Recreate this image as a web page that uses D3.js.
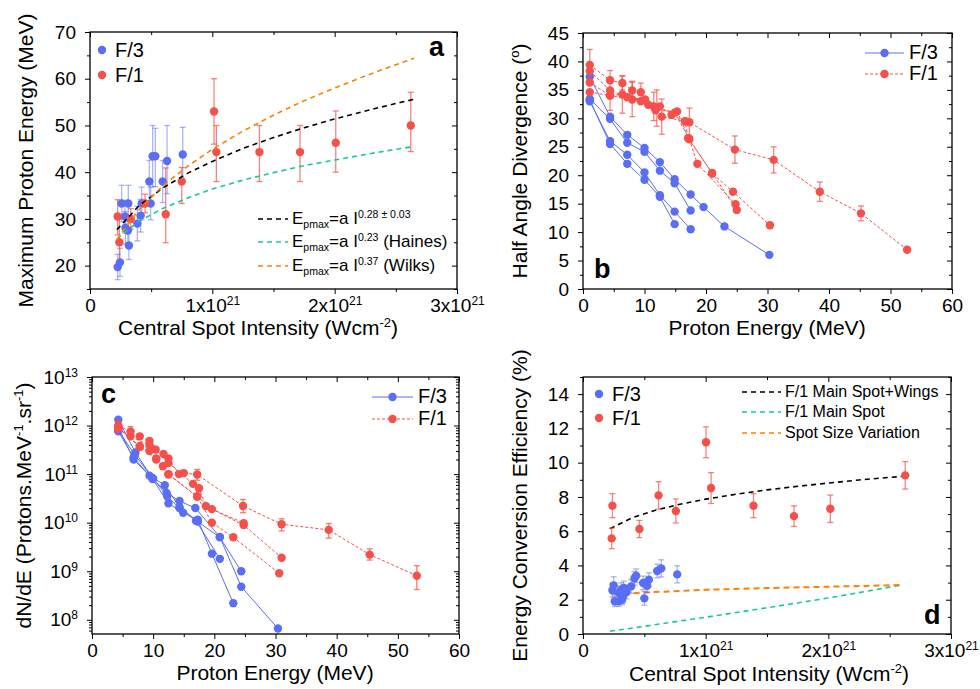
<!DOCTYPE html>
<html>
<head>
<meta charset="utf-8">
<title>Proton beam vs laser focus</title>
<style>
  body { margin: 0; background: #fff; }
  text { font-family: "Liberation Sans", Arial, sans-serif; }
</style>
</head>
<body>
<script src="https://cdn.jsdelivr.net/npm/d3@7/dist/d3.min.js"></script>
<script>

// ---------- panel a : max proton energy vs central spot intensity (x in 1e21 W/cm2)
// [intensity, energy, err-, err+]
var aF3 = [
  [0.226, 19.7, 2.7, 2.7], [0.245, 20.7, 3.0, 3.0], [0.259, 33.3, 3.9, 3.9], [0.286, 30.5, 3.5, 3.5],
  [0.29, 28.1, 3.5, 3.5], [0.313, 33.3, 3.9, 3.9], [0.31, 27.5, 3.0, 3.0], [0.318, 24.3, 3.0, 3.0],
  [0.387, 29.0, 3.7, 3.7], [0.414, 30.7, 3.5, 3.5], [0.422, 33.3, 3.5, 3.5], [0.485, 38.0, 4.5, 4.5],
  [0.496, 33.3, 3.5, 3.5], [0.512, 43.4, 6.5, 6.6], [0.534, 43.4, 6.5, 6.0], [0.594, 38.0, 4.5, 4.5],
  [0.63, 42.4, 7.0, 7.6], [0.758, 43.8, 5.8, 5.8]
];
var aF1 = [
  [0.226, 30.5, 3.9, 3.6], [0.24, 25.0, 5.0, 5.0], [0.333, 30.0, 2.2, 2.2], [0.45, 33.3, 2.0, 2.0],
  [0.619, 31.0, 6.1, 9.9], [0.75, 38.0, 4.7, 3.0], [1.014, 53.0, 7.0, 7.0], [1.033, 44.3, 6.3, 5.7],
  [1.385, 44.3, 6.3, 5.7], [1.717, 44.3, 6.3, 5.7], [2.009, 46.3, 6.3, 6.8], [2.622, 50.0, 5.6, 7.1]
];
var aFitI      = [0.22, 0.4, 0.6, 0.8, 1.0, 1.25, 1.5, 1.75, 2.0, 2.25, 2.5, 2.65];
var aFitBlack  = [27.7, 32.8, 36.7, 39.8, 42.3, 45.1, 47.4, 49.5, 51.4, 53.1, 54.7, 55.6];
var aFitHaines = [25.7, 29.5, 32.3, 34.5, 36.4, 38.3, 39.9, 41.4, 42.6, 43.8, 44.9, 45.5];
var aFitWilks  = [25.6, 32.0, 37.2, 41.3, 44.9, 48.8, 52.2, 55.3, 58.0, 60.6, 63.0, 64.4];

// ---------- panel b : half angle divergence vs proton energy, one list per shot
// [energy, angle, err]
var bF3 = [
  [[1.1, 37.3, 0], [4.4, 30.3, 0], [7.2, 27.1, 0], [10.0, 24.8, 0], [12.5, 22.3, 0], [14.9, 19.3, 0],
   [17.5, 16.6, 0], [19.6, 14.4, 0], [23.0, 11.0, 0], [30.3, 6.0, 0]],
  [[1.1, 33.4, 0], [4.4, 29.9, 0], [7.2, 25.7, 0], [10.0, 24.1, 0], [12.5, 20.8, 0], [14.9, 18.6, 0], [17.5, 13.8, 0]],
  [[1.1, 33.0, 0], [4.4, 26.0, 0], [7.2, 23.6, 0], [10.0, 20.5, 0], [12.5, 16.5, 0], [14.9, 13.6, 0], [17.5, 10.5, 0]],
  [[1.1, 33.2, 0], [4.4, 25.5, 0], [7.2, 22.0, 0], [10.0, 19.2, 0], [12.5, 16.2, 0], [14.9, 11.4, 0]]
];
var bF1 = [
  [[1.1, 39.4, 2.7], [4.4, 36.7, 0], [6.4, 36.2, 1.2], [8.0, 34.9, 1.6], [9.4, 34.6, 1.6], [11.5, 32.1, 2.5],
   [12.5, 32.1, 0], [14.4, 30.6, 0], [16.6, 29.5, 0], [17.3, 29.3, 2.5], [24.7, 24.5, 2.4], [31.0, 22.7, 2.3],
   [38.5, 17.1, 1.7], [45.2, 13.3, 1.3], [52.7, 6.9, 0.4]],
  [[1.1, 38.3, 0], [4.4, 34.9, 3.5], [7.2, 33.7, 0], [10.1, 33.3, 0], [12.0, 31.8, 3.2], [14.9, 31.0, 0],
   [17.2, 26.5, 0], [21.0, 20.3, 0], [24.4, 17.1, 0], [30.4, 11.2, 0]],
  [[1.1, 36.3, 0], [4.4, 34.0, 0], [6.4, 34.2, 3.3], [9.4, 33.0, 0], [11.8, 31.4, 0], [15.3, 31.2, 0],
   [17.3, 26.3, 0], [18.6, 22.0, 0], [24.8, 14.9, 0]],
  [[1.1, 34.6, 0], [4.4, 34.0, 0], [8.0, 33.3, 3.0], [10.6, 32.4, 0], [12.8, 30.3, 3.1], [16.6, 29.5, 0],
   [17.1, 26.5, 0], [21.0, 20.4, 0], [25.0, 13.9, 0]]
];

// ---------- panel c : spectra, [energy, dN/dE, low, high]
var cF3 = [
  [[4.3, 1.32e12], [7.1, 2.8e11], [9.9, 8.3e10], [12.2, 4.1e10], [14.3, 2.8e10], [16.9, 2.0e10],
   [20.9, 5.1e9], [24.4, 4.8e8], [30.4, 6.6e7]],
  [[4.3, 9.3e11], [6.8, 2.0e11], [9.4, 9.3e10], [11.9, 5.9e10], [14.3, 2.1e10], [17.3, 1.05e10],
   [20.9, 5.0e9], [24.4, 1.0e9]],
  [[4.3, 7.6e11], [6.8, 2.2e11], [9.9, 7.9e10], [12.5, 2.5e10], [14.9, 1.6e10], [17.3, 1.15e10],
   [19.6, 2.3e9], [23.1, 2.2e8]],
  [[4.3, 8.0e11], [7.0, 2.5e11], [10.0, 8.0e10], [12.3, 3.5e10], [14.3, 2.0e10], [17.0, 1.1e10], [20.9, 1.8e9]]
];
var cF1 = [
  [[4.3, 1.0e12, 8.0e11, 1.25e12], [6.3, 7.6e11, 6.3e11, 9.5e11], [7.8, 6.0e11], [9.4, 4.8e11], [11.7, 2.6e11],
   [12.5, 2.1e11], [14.2, 1.0e11], [15.0, 1.05e11], [17.2, 9.8e10, 7.5e10, 1.25e11], [24.7, 2.2e10, 1.6e10, 3.0e10],
   [31.0, 9.3e9, 6.8e9, 1.2e10], [38.7, 7.1e9, 4.8e9, 9.6e9], [45.4, 2.2e9, 1.7e9, 2.9e9], [53.1, 8.1e8, 4.2e8, 1.3e9]],
  [[4.3, 8.5e11], [6.3, 6.0e11], [9.4, 3.9e11], [10.4, 3.2e11], [12.5, 1.7e11], [16.5, 6.3e10], [17.5, 5.1e10],
   [18.6, 2.2e10], [24.8, 8.9e9], [31.0, 1.9e9]],
  [[4.3, 9.0e11], [7.8, 3.6e11], [9.4, 3.0e11], [10.5, 2.1e11], [11.6, 1.45e11], [12.5, 9.8e10], [17.2, 3.5e10],
   [19.6, 1.9e10], [24.8, 9.8e9]],
  [[4.3, 8.8e11], [7.8, 3.8e11], [10.5, 2.0e11], [12.5, 1.0e11], [17.2, 3.4e10], [19.6, 1.0e10], [23.1, 5.0e9],
   [30.6, 9.1e8]]
];

// ---------- panel d : conversion efficiency vs intensity, [intensity, %, err]
var dF3 = [
  [0.24, 2.55, 0.4], [0.25, 2.84, 0.5], [0.259, 1.91, 0.3], [0.29, 1.91, 0.3], [0.295, 2.39, 0.4],
  [0.31, 2.59, 0.4], [0.318, 2.0, 0.3], [0.327, 2.2, 0.4], [0.332, 2.69, 0.4], [0.355, 2.45, 0.4],
  [0.392, 2.78, 0.4], [0.42, 3.25, 0.4], [0.433, 3.40, 0.4], [0.49, 2.98, 0.4], [0.50, 2.08, 0.4],
  [0.523, 2.82, 0.4], [0.537, 3.17, 0.4], [0.605, 3.68, 0.4], [0.638, 3.83, 0.5], [0.768, 3.48, 0.5]
];
var dF1 = [
  [0.24, 7.49, 0.7], [0.234, 5.58, 0.6], [0.46, 6.13, 0.5], [0.616, 8.09, 0.8], [0.757, 7.18, 0.7],
  [1.003, 11.19, 0.9], [1.044, 8.52, 0.9], [1.39, 7.49, 0.7], [1.72, 6.88, 0.6], [2.016, 7.31, 0.8],
  [2.627, 9.26, 0.8]
];
var dFitI     = [0.22, 0.4, 0.6, 0.8, 1.0, 1.25, 1.5, 1.75, 2.0, 2.25, 2.5, 2.63];
var dFitWings = [6.15, 6.78, 7.24, 7.59, 7.87, 8.16, 8.41, 8.62, 8.81, 8.99, 9.14, 9.21];
var dMainI    = [0.22, 0.5, 1.0, 1.5, 2.0, 2.6];
var dFitMain  = [0.16, 0.45, 0.98, 1.53, 2.10, 2.86];
var dSpotI    = [0.25, 0.5, 1.0, 1.5, 2.0, 2.6];
var dSpotVar  = [2.30, 2.42, 2.58, 2.68, 2.76, 2.86];

var BLUE = "#5a6ef5", RED = "#f5504a";
var GREEN = "#14cc93", ORANGE = "#ff8000";
var R = 4.2;   // marker radius

var svg = d3.select("body").append("svg").attr("width", 980).attr("height", 689);

var boxA = {l: 90, r: 457, t: 32, b: 289};
var boxB = {l: 583, r: 952, t: 33, b: 289};
var boxC = {l: 92, r: 459, t: 377, b: 634};
var boxD = {l: 583, r: 951, t: 377, b: 634};

function range(a, b, s) { var o = []; for (var v = a; v <= b + 1e-9; v += s) o.push(+v.toFixed(6)); return o; }

function sup(sel, base, s) {
  sel.text(null);
  sel.append("tspan").text(base);
  sel.append("tspan").attr("font-size", 12).attr("dy", -7).text(s);
}
function sciLabel(sel, d) { if (d === 0) sel.text("0"); else sup(sel, d + "x10", "21"); }
function logLabel(sel, d) { sup(sel, "10", Math.round(Math.log10(d))); }

function drawAxes(box, x, y, xMaj, xMin, yMaj, yMin, xFmt, yFmt) {
  var g = svg.append("g");
  function add(axis, tr) { return g.append("g").attr("transform", tr).call(axis); }
  var bt = "translate(0," + box.b + ")", tt = "translate(0," + box.t + ")";
  var lt = "translate(" + box.l + ",0)", rt = "translate(" + box.r + ",0)";
  var bx = add(d3.axisBottom(x).tickValues(xMaj).tickSize(5).tickPadding(5), bt);
  add(d3.axisBottom(x).tickValues(xMin).tickSize(3).tickFormat(""), bt);
  add(d3.axisTop(x).tickValues(xMaj).tickSize(-5).tickFormat(""), tt);
  add(d3.axisTop(x).tickValues(xMin).tickSize(-3).tickFormat(""), tt);
  var ly = add(d3.axisLeft(y).tickValues(yMaj).tickSize(5).tickPadding(9), lt);
  add(d3.axisLeft(y).tickValues(yMin).tickSize(3).tickFormat(""), lt);
  add(d3.axisRight(y).tickValues(yMaj).tickSize(-5).tickFormat(""), rt);
  add(d3.axisRight(y).tickValues(yMin).tickSize(-3).tickFormat(""), rt);
  g.selectAll(".domain").remove();
  g.selectAll(".tick line").attr("stroke", "#000").attr("stroke-width", 1);
  g.selectAll(".tick text").attr("font-size", 19).attr("fill", "#000")
    .attr("font-family", "'Liberation Sans', Arial, sans-serif");
  if (xFmt) bx.selectAll(".tick text").each(function (d) { xFmt(d3.select(this), d); });
  if (yFmt) ly.selectAll(".tick text").each(function (d) { yFmt(d3.select(this), d); });
  g.append("rect").attr("x", box.l).attr("y", box.t)
    .attr("width", box.r - box.l).attr("height", box.b - box.t)
    .attr("fill", "none").attr("stroke", "#000").attr("stroke-width", 1.3);
}

// title helpers: parts = [[text, mode], ...]  mode 1 = sup, -1 = sub, 2 / -2 = back to baseline
function richText(sel, parts, size) {
  parts.forEach(function (p) {
    if (p[1] === 1) sel.append("tspan").attr("font-size", size * 0.62).attr("dy", -size * 0.38).text(p[0]);
    else if (p[1] === -1) sel.append("tspan").attr("font-size", size * 0.62).attr("dy", size * 0.25).text(p[0]);
    else if (p[1] === 2) sel.append("tspan").attr("dy", size * 0.38).text(p[0]);
    else if (p[1] === -2) sel.append("tspan").attr("dy", -size * 0.25).text(p[0]);
    else sel.append("tspan").text(p[0]);
  });
  return sel;
}
function xTitle(cx, yPos, parts) {
  richText(svg.append("text").attr("x", cx).attr("y", yPos)
    .attr("text-anchor", "middle").attr("font-size", 21), parts, 21);
}
function yTitle(box, xPos, parts) {
  richText(svg.append("text")
    .attr("transform", "translate(" + xPos + "," + (box.t + box.b) / 2 + ") rotate(-90)")
    .attr("text-anchor", "middle").attr("font-size", 21), parts, 21);
}
function letter(xp, yp, s) {
  svg.append("text").attr("x", xp).attr("y", yp).attr("font-size", 27)
    .attr("font-weight", "bold").text(s);
}

function errBars(pts, x, y, color, op, fn) {
  var g = svg.append("g").attr("stroke", color).attr("stroke-opacity", op).attr("stroke-width", 1.3);
  pts.forEach(function (d) {
    var e = fn(d);
    if (!e) return;
    var cx = x(d[0]), y0 = y(e[0]), y1 = y(e[1]);
    g.append("line").attr("x1", cx).attr("x2", cx).attr("y1", y0).attr("y2", y1);
    g.append("line").attr("x1", cx - 3).attr("x2", cx + 3).attr("y1", y0).attr("y2", y0);
    g.append("line").attr("x1", cx - 3).attr("x2", cx + 3).attr("y1", y1).attr("y2", y1);
  });
}
function dots(pts, x, y, color) {
  svg.append("g").selectAll("circle").data(pts).enter().append("circle")
    .attr("cx", function (d) { return x(d[0]); })
    .attr("cy", function (d) { return y(d[1]); })
    .attr("r", R).attr("fill", color);
}
function curve(xs, ys, x, y, color, dash, w) {
  var line = d3.line().x(function (d) { return x(d[0]); }).y(function (d) { return y(d[1]); });
  svg.append("path").datum(xs.map(function (v, i) { return [v, ys[i]]; }))
    .attr("d", line).attr("fill", "none").attr("stroke", color)
    .attr("stroke-width", w).attr("stroke-dasharray", dash);
}
function shotLine(pts, x, y, color, dash) {
  var line = d3.line().x(function (d) { return x(d[0]); }).y(function (d) { return y(d[1]); });
  svg.append("path").datum(pts).attr("d", line).attr("fill", "none")
    .attr("stroke", color).attr("stroke-width", 1).attr("stroke-dasharray", dash);
}
function dotLegend(xp, yp, color, label) {
  svg.append("circle").attr("cx", xp).attr("cy", yp).attr("r", R).attr("fill", color);
  svg.append("text").attr("x", xp + 13).attr("y", yp + 7).attr("font-size", 20).text(label);
}
function lineLegend(x0, x1, yp, color, dash, label) {
  svg.append("line").attr("x1", x0).attr("x2", x1).attr("y1", yp).attr("y2", yp)
    .attr("stroke", color).attr("stroke-width", 1).attr("stroke-dasharray", dash);
  svg.append("circle").attr("cx", (x0 + x1) / 2).attr("cy", yp).attr("r", R).attr("fill", color);
  svg.append("text").attr("x", x1 + 5).attr("y", yp + 6).attr("font-size", 20).text(label);
}
function fitLegend(x0, yp, color, parts, size) {
  svg.append("line").attr("x1", x0).attr("x2", x0 + 30).attr("y1", yp).attr("y2", yp)
    .attr("stroke", color).attr("stroke-width", 1.5).attr("stroke-dasharray", "5,4");
  richText(svg.append("text").attr("x", x0 + 34).attr("y", yp + 5).attr("font-size", size), parts, size);
}

// ================= panel a
var xA = d3.scaleLinear().domain([0, 3]).range([boxA.l, boxA.r]);
var yA = d3.scaleLinear().domain([15, 70]).range([boxA.b, boxA.t]);
drawAxes(boxA, xA, yA, [0, 1, 2, 3], [0.5, 1.5, 2.5], range(20, 70, 10), range(15, 65, 10), sciLabel);
errBars(aF3, xA, yA, BLUE, 0.5, function (d) { return [d[1] - d[2], d[1] + d[3]]; });
errBars(aF1, xA, yA, RED, 0.7, function (d) { return [d[1] - d[2], d[1] + d[3]]; });
dots(aF3, xA, yA, BLUE);
dots(aF1, xA, yA, RED);
curve(aFitI, aFitBlack, xA, yA, "#000", "5,4", 1.6);
curve(aFitI, aFitHaines, xA, yA, GREEN, "5,4", 1.6);
curve(aFitI, aFitWilks, xA, yA, ORANGE, "5,4", 1.6);
dotLegend(102, 50, BLUE, "F/3");
dotLegend(102, 75, RED, "F/1");
fitLegend(258, 219, "#000", [["E"], ["pmax", -1], ["=a I", -2], ["0.28 \u00b1 0.03", 1]], 17);
fitLegend(258, 242, GREEN, [["E"], ["pmax", -1], ["=a I", -2], ["0.23", 1], [" (Haines)", 2]], 17);
fitLegend(258, 266, ORANGE, [["E"], ["pmax", -1], ["=a I", -2], ["0.37", 1], [" (Wilks)", 2]], 17);
letter(429, 56, "a");
xTitle(258, 335, [["Central Spot Intensity (Wcm"], ["-2", 1], [")", 2]]);
yTitle(boxA, 33, [["Maximum Proton Energy (MeV)"]]);

// ================= panel b
var xB = d3.scaleLinear().domain([0, 60]).range([boxB.l, boxB.r]);
var yB = d3.scaleLinear().domain([0, 45]).range([boxB.b, boxB.t]);
drawAxes(boxB, xB, yB, range(0, 60, 10), range(5, 55, 10), range(0, 45, 5), range(2.5, 42.5, 5));
bF3.forEach(function (s) { shotLine(s, xB, yB, BLUE, null); });
bF1.forEach(function (s) { shotLine(s, xB, yB, RED, "3,2"); });
bF3.forEach(function (s) { dots(s, xB, yB, BLUE); });
bF1.forEach(function (s) {
  errBars(s, xB, yB, RED, 0.7, function (d) { return d[2] ? [d[1] - d[2], d[1] + d[2]] : null; });
  dots(s, xB, yB, RED);
});
lineLegend(865, 904, 53, BLUE, null, "F/3");
lineLegend(865, 904, 74, RED, "3,2", "F/1");
letter(594, 278, "b");
xTitle(767, 335, [["Proton Energy (MeV)"]]);
yTitle(boxB, 527, [["Half Angle Divergence ("], ["o", 1], [")", 2]]);

// ================= panel c
var xC = d3.scaleLinear().domain([0, 60]).range([boxC.l, boxC.r]);
var yC = d3.scaleLog().domain([5.1e7, 1e13]).range([boxC.b, boxC.t]);
var cMaj = [1e8, 1e9, 1e10, 1e11, 1e12, 1e13], cMin = [];
for (var k = 7; k <= 12; k++) for (var m = 2; m <= 9; m++) {
  var v = m * Math.pow(10, k);
  if (v >= 5.1e7 && v <= 1e13) cMin.push(v);
}
drawAxes(boxC, xC, yC, range(0, 60, 10), range(5, 55, 10), cMaj, cMin, null, logLabel);
cF3.forEach(function (s) { shotLine(s, xC, yC, BLUE, null); });
cF1.forEach(function (s) { shotLine(s, xC, yC, RED, "3,2"); });
cF3.forEach(function (s) { dots(s, xC, yC, BLUE); });
cF1.forEach(function (s) {
  errBars(s, xC, yC, RED, 0.75, function (d) { return d.length > 2 ? [d[2], d[3]] : null; });
  dots(s, xC, yC, RED);
});
lineLegend(372, 413, 397, BLUE, null, "F/3");
lineLegend(372, 413, 419, RED, "3,2", "F/1");
letter(101, 403, "c");
xTitle(275, 680, [["Proton Energy (MeV)"]]);
yTitle(boxC, 31, [["dN/dE (Protons.MeV"], ["-1", 1], [".sr", 2], ["-1", 1], [")", 2]]);

// ================= panel d
var xD = d3.scaleLinear().domain([0, 3]).range([boxD.l, boxD.r]);
var yD = d3.scaleLinear().domain([0, 15]).range([boxD.b, boxD.t]);
drawAxes(boxD, xD, yD, [0, 1, 2, 3], [0.5, 1.5, 2.5], range(0, 14, 2), range(1, 15, 2), sciLabel);
curve(dFitI, dFitWings, xD, yD, "#000", "5,4", 1.6);
curve(dMainI, dFitMain, xD, yD, GREEN, "5,4", 1.6);
curve(dSpotI, dSpotVar, xD, yD, ORANGE, "6,4", 2);
errBars(dF3, xD, yD, BLUE, 0.5, function (d) { return [d[1] - d[2], d[1] + d[2]]; });
errBars(dF1, xD, yD, RED, 0.7, function (d) { return [d[1] - d[2], d[1] + d[2]]; });
dots(dF3, xD, yD, BLUE);
dots(dF1, xD, yD, RED);
dotLegend(599, 394, BLUE, "F/3");
dotLegend(599, 418, RED, "F/1");
var dLeg = [["#000", "F/1 Main Spot+Wings", 392], [GREEN, "F/1 Main Spot", 412], [ORANGE, "Spot Size Variation", 433]];
dLeg.forEach(function (l) {
  svg.append("line").attr("x1", 742).attr("x2", 781).attr("y1", l[2]).attr("y2", l[2])
    .attr("stroke", l[0]).attr("stroke-width", 1.5).attr("stroke-dasharray", "5,4");
  svg.append("text").attr("x", 785).attr("y", l[2] + 5).attr("font-size", 16).text(l[1]);
});
letter(924, 624, "d");
xTitle(769, 681, [["Central Spot Intensity (Wcm"], ["-2", 1], [")", 2]]);
yTitle(boxD, 527, [["Energy Conversion Efficiency (%)"]]);

</script>
</body>
</html>
